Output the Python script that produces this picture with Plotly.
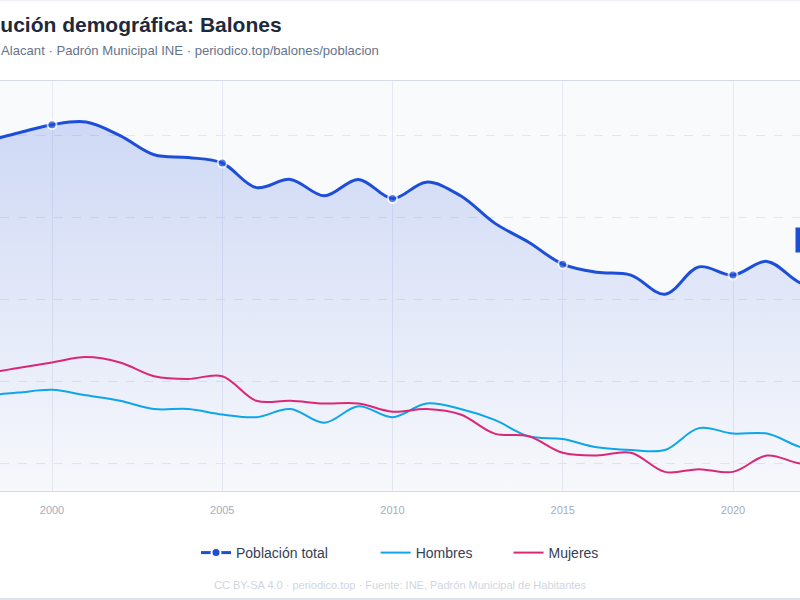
import plotly.graph_objects as go

# ---- data ----
years = [1996, 1998, 1999, 2000, 2001, 2002, 2003, 2004, 2005, 2006, 2007, 2008,
         2009, 2010, 2011, 2012, 2013, 2014, 2015, 2016, 2017, 2018, 2019, 2020,
         2021, 2022, 2023, 2024]
total = [176, 178, 181, 184, 185, 180, 173, 172, 170, 161, 164, 158,
         164, 157, 163, 158, 148, 141, 133, 130, 129, 122, 132, 129,
         134, 126, 124, 126]
hombres = [85, 85, 86, 87, 85, 83, 80, 80, 78, 77, 80, 75,
           81, 77, 82, 80, 76, 70, 69, 66, 65, 65, 73, 71,
           71, 66, 64, 65]
mujeres = [91, 93, 95, 97, 99, 97, 92, 91, 92, 83, 83, 82,
           82, 79, 80, 78, 71, 70, 64, 63, 64, 57, 58, 57,
           63, 60, 60, 61]
marker_years = [2000, 2005, 2010, 2015, 2020]

series_names = ["Población total", "Hombres", "Mujeres"]
title_text = "<b>Evolución demográfica: Balones</b>"
subtitle_text = "Comtat · Alacant · Padrón Municipal INE · periodico.top/balones/poblacion"
footer_text = "CC BY-SA 4.0 · periodico.top · Fuente: INE, Padrón Municipal de Habitantes"
end_label = f"{total[-1]} hab."

# ---- styles ----
C_TOTAL = "#1d4ed8"
C_H = "#0ea5e9"
C_M = "#db2777"
FONT = "Liberation Sans, Arial, sans-serif"

W, H = 800, 600
T, B = 81, 109
plot_h = H - T - B


def py(px):
    """pixel y (from top) -> paper y"""
    return (H - B - px) / plot_h


NB = "\u00a0"
legend_pad = [11, 8, 0]   # spacing between legend entries
legend_labels = [n + NB * p for n, p in zip(series_names, legend_pad)]

msize = [9 if y in marker_years else 0 for y in years]

fig = go.Figure()

fig.add_trace(go.Scatter(
    x=years, y=total, mode="lines+markers", name=series_names[0],
    line=dict(color=C_TOTAL, width=3, shape="spline", smoothing=1.0),
    marker=dict(size=msize, color=C_TOTAL, line=dict(color="white", width=2)),
    fill="tozeroy",
    fillgradient=dict(type="vertical", start=50, stop=190,
                      colorscale=[[0, "rgba(29,78,216,0.01)"],
                                  [1, "rgba(29,78,216,0.20)"]]),
    showlegend=False, hoverinfo="skip",
))
fig.add_trace(go.Scatter(
    x=years, y=hombres, mode="lines", name=series_names[1],
    line=dict(color=C_H, width=2, shape="spline", smoothing=1.0),
    showlegend=False, hoverinfo="skip",
))
fig.add_trace(go.Scatter(
    x=years, y=mujeres, mode="lines", name=series_names[2],
    line=dict(color=C_M, width=2, shape="spline", smoothing=1.0),
    showlegend=False, hoverinfo="skip",
))
# legend entries
fig.add_trace(go.Scatter(
    x=[None], y=[None], mode="lines+markers", name=legend_labels[0],
    line=dict(color=C_TOTAL, width=3),
    marker=dict(size=9, color=C_TOTAL, line=dict(color="white", width=2)),
))
fig.add_trace(go.Scatter(x=[None], y=[None], mode="lines", name=legend_labels[1],
                         line=dict(color=C_H, width=2)))
fig.add_trace(go.Scatter(x=[None], y=[None], mode="lines", name=legend_labels[2],
                         line=dict(color=C_M, width=2)))

px_per_year = 34.05
x0 = 2000 - 52 / px_per_year
x1 = 2000 + (W - 52) / px_per_year

fig.update_layout(
    width=W, height=H,
    margin=dict(l=0, r=0, t=T, b=B, pad=0),
    paper_bgcolor="white",
    plot_bgcolor="#f9fafc",
    font=dict(family=FONT, color="#334155"),
    showlegend=True,
    legend=dict(orientation="h", x=0.5, xanchor="center", y=py(553), yanchor="middle",
                font=dict(size=14, color="#334155"), bgcolor="rgba(0,0,0,0)",
                itemwidth=30),
    xaxis=dict(range=[x0, x1], tick0=2000, dtick=5, showgrid=True,
               gridcolor="#e5e9f1", gridwidth=1, zeroline=False,
               showline=True, linecolor="#d5dce6", linewidth=1, mirror=True,
               ticks="", ticklabelstandoff=9,
               tickfont=dict(size=11, color="#a3aec0")),
    yaxis=dict(range=[50, 200], tick0=0, dtick=30, showgrid=True,
               gridcolor="#e3e7ef", griddash="dash", gridwidth=1,
               zeroline=False, showline=False, showticklabels=False),
    annotations=[
        dict(text=title_text, xref="paper", yref="paper", x=284 / W, y=py(24),
             xanchor="right", yanchor="middle", showarrow=False,
             font=dict(size=21, color="#1e293b", family=FONT)),
        dict(text=subtitle_text, xref="paper", yref="paper", x=381 / W, y=py(51),
             xanchor="right", yanchor="middle", showarrow=False,
             font=dict(size=13.1, color="#64748b", family=FONT)),
        dict(text=footer_text, xref="paper", yref="paper", x=0.5, y=py(585),
             xanchor="center", yanchor="middle", showarrow=False,
             font=dict(size=11, color="#cfd6e1", family=FONT)),
        dict(text=end_label, xref="paper", yref="paper", x=795 / W, y=py(240),
             xanchor="left", yanchor="middle", showarrow=False,
             bgcolor=C_TOTAL, borderpad=5,
             font=dict(size=12, color="white", family=FONT)),
    ],
    shapes=[
        dict(type="line", xref="paper", yref="paper", x0=0, x1=1,
             y0=py(599), y1=py(599), line=dict(color="#d3d9e3", width=1.5)),
        dict(type="line", xref="paper", yref="paper", x0=0, x1=1,
             y0=py(0.5), y1=py(0.5), line=dict(color="#eef1f5", width=1)),
    ],
)

fig.write_html("out.html")
